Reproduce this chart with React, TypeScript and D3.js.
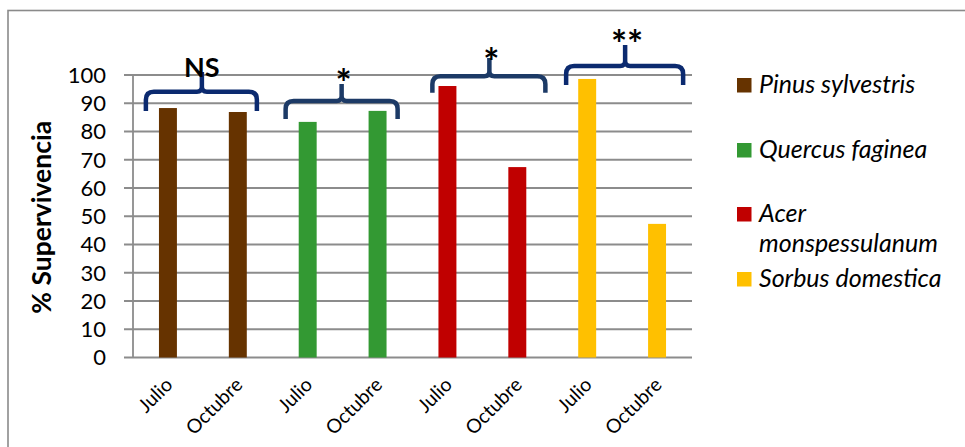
import React from "react";
import * as d3 from "d3";

// Survival (%) per species, July and October surveys
const species = ["Pinus sylvestris", "Quercus faginea", "Acer monspessulanum", "Sorbus domestica"];
const legendLines = [["Pinus sylvestris"], ["Quercus faginea"], ["Acer", "monspessulanum"], ["Sorbus domestica"]];
const months = ["Julio", "Octubre"];
const julio = [88.3, 83.4, 96.1, 98.6];
const octubre = [86.9, 87.3, 67.4, 47.3];
const speciesColors = ["#663300", "#339933", "#C00000", "#FFC000"];
const yTicks = [0, 10, 20, 30, 40, 50, 60, 70, 80, 90, 100];

// Significance brackets (levels in % units)
const sigLabels = ["NS", "*", "*", "**"];
const braceBottom = [87.3, 84.4, 93.7, 96.5];
const braceMid = [94.1, 90.8, 99.6, 103.2];
const braceTop = [101.1, 96.8, 106.0, 110.6];
const sigLabelLevel = [102.6, 100.4, 108.1, 114.2];
const braceColors = ["#0B2A6F", "#1C3A66", "#1C3A66", "#0B2A6F"];

const W = 965;
const H = 447;
const plot = { left: 133, right: 692, top: 75, bottom: 357.5 };
const FONT = "Lato, 'Open Sans', sans-serif";

type Bar = { key: string; species: number; month: string; value: number };

const bars: Bar[] = species.flatMap((_, i) => [
  { key: `${i}-${months[0]}`, species: i, month: months[0], value: julio[i] },
  { key: `${i}-${months[1]}`, species: i, month: months[1], value: octubre[i] },
]);

// horizontal placement of each bracket relative to its pair of bars (px)
const braceSpan = [
  [-57, 54, -1],
  [-57, 55, -1],
  [-50, 63, 7],
  [-56, 61, 3],
];

function bracePath(x1: number, x2: number, xc: number, yb: number, ym: number, yt: number) {
  const r = 8;
  const c = 5;
  return [
    `M${x1},${yb}`,
    `L${x1},${ym + r}`,
    `Q${x1},${ym} ${x1 + r},${ym}`,
    `L${xc - c},${ym}`,
    `Q${xc},${ym} ${xc},${ym - c}`,
    `L${xc},${yt}`,
    `M${xc},${ym - c}`,
    `Q${xc},${ym} ${xc + c},${ym}`,
    `L${x2 - r},${ym}`,
    `Q${x2},${ym} ${x2},${ym + r}`,
    `L${x2},${yb}`,
  ].join(" ");
}

export default function App() {
  const x = d3
    .scaleBand<string>()
    .domain(bars.map((b) => b.key))
    .range([plot.left, plot.right])
    .paddingInner(0.743)
    .paddingOuter(0.3715);
  const y = d3.scaleLinear().domain([0, 100]).range([plot.bottom, plot.top]);
  const bw = x.bandwidth();
  const center = (k: string) => (x(k) as number) + bw / 2;

  const legendX = 737;
  const legendTop = [78, 143, 207, 272];

  return (
    <svg
      width={W}
      height={H}
      style={{ position: "absolute", left: 0, top: 0, background: "#fff" }}
      fontFamily={FONT}
    >
      {/* chart frame */}
      <rect x={8} y={10.5} width={W + 20} height={H + 20} fill="#fff" stroke="#8a8a8a" strokeWidth={1.6} />

      {/* gridlines */}
      {yTicks.map((t) => (
        <line key={t} x1={124} x2={plot.right} y1={y(t)} y2={y(t)} stroke="#8c8c8c" strokeWidth={1.8} />
      ))}
      <line x1={plot.left} x2={plot.left} y1={y(100)} y2={y(0)} stroke="#8c8c8c" strokeWidth={1.8} />

      {/* y tick labels */}
      {yTicks.map((t) => (
        <text key={t} x={106} y={y(t)} dy="0.36em" textAnchor="end" fontSize={22} fill="#000">
          {t}
        </text>
      ))}

      {/* y title */}
      <text
        transform={`translate(51,${(y(0) + y(100)) / 2 + 1}) rotate(-90)`}
        textAnchor="middle"
        fontSize={26.5}
        fontWeight="bold"
        fill="#000"
      >
        % Supervivencia
      </text>

      {/* bars */}
      {bars.map((b) => (
        <rect
          key={b.key}
          x={x(b.key)}
          y={y(b.value)}
          width={bw}
          height={y(0) - y(b.value)}
          fill={speciesColors[b.species]}
        />
      ))}

      {/* x tick labels */}
      {bars.map((b) => {
        const cx = center(b.key) + 6;
        const cy = 386;
        return (
          <text
            key={b.key}
            transform={`translate(${cx},${cy}) rotate(-45)`}
            textAnchor="end"
            fontSize={19.5}
            fill="#000"
          >
            {b.month}
          </text>
        );
      })}

      {/* significance brackets */}
      {species.map((_, i) => {
        const mid = (center(bars[2 * i].key) + center(bars[2 * i + 1].key)) / 2;
        const [l, r, p] = braceSpan[i];
        const xc = mid + p;
        const isNS = sigLabels[i] === "NS";
        return (
          <g key={i}>
            <path
              d={bracePath(mid + l, mid + r, xc, y(braceBottom[i]), y(braceMid[i]), y(braceTop[i]))}
              fill="none"
              stroke={braceColors[i]}
              strokeWidth={4.5}
              strokeLinejoin="round"
            />
            <text
              x={xc + (isNS ? 0 : 2)}
              y={y(sigLabelLevel[i])}
              dy={isNS ? "0.36em" : "0.62em"}
              textAnchor="middle"
              fontSize={isNS ? 27 : 38}
              fontWeight="bold"
              fill="#000"
            >
              {sigLabels[i]}
            </text>
          </g>
        );
      })}

      {/* legend */}
      {legendLines.map((lines, i) => (
        <g key={i}>
          <rect x={legendX} y={legendTop[i]} width={14.5} height={14.5} fill={speciesColors[i]} />
          {lines.map((ln, j) => (
            <text
              key={j}
              x={legendX + 22}
              y={legendTop[i] + 14.5 + j * 30.5}
              fontSize={25}
              fontStyle="italic"
              fill="#000"
            >
              {ln}
            </text>
          ))}
        </g>
      ))}
    </svg>
  );
}
